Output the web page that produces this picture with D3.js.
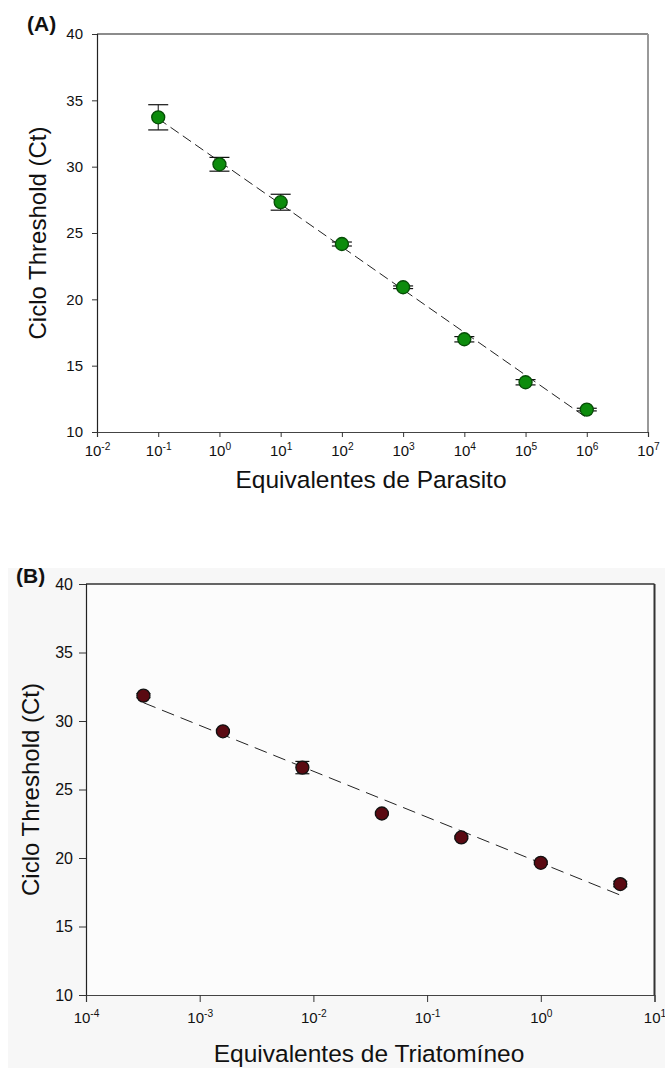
<!DOCTYPE html>
<html>
<head>
<meta charset="utf-8">
<script src="https://cdn.jsdelivr.net/npm/d3@7"></script>
<style>
  html, body { margin: 0; padding: 0; background: #ffffff; }
  svg { display: block; font-family: "Liberation Sans", Arial, sans-serif; }
</style>
</head>
<body>
<svg id="chart" width="665" height="1068"></svg>
<script>
// ---------- data ----------
const parasiteEq  = [1e-1, 1e0, 1e1, 1e2, 1e3, 1e4, 1e5, 1e6];
const parasiteCt  = [33.72, 30.18, 27.32, 24.17, 20.91, 16.99, 13.75, 11.69];
const parasiteErr = [0.95, 0.52, 0.60, 0.15, 0.10, 0.20, 0.20, 0.10];

const triatEq  = [0.00032, 0.0016, 0.008, 0.04, 0.2, 1, 5];
const triatCt  = [31.85, 29.25, 26.60, 23.25, 21.50, 19.65, 18.10];
const triatErr = [0.15, 0.10, 0.45, 0.10, 0.10, 0.12, 0.20];

const yTicks = [10, 15, 20, 25, 30, 35, 40];
const xExpA = [-2, -1, 0, 1, 2, 3, 4, 5, 6, 7];
const xExpB = [-4, -3, -2, -1, 0, 1];

const panelLabels = ["(A)", "(B)"];
const yTitle = "Ciclo Threshold (Ct)";
const xTitles = ["Equivalentes de Parasito", "Equivalentes de Triatomíneo"];

// ---------- helpers ----------
const svg = d3.select("#chart");

function linFit(xs, ys) {
  const lx = xs.map(v => Math.log10(v));
  const mx = d3.mean(lx), my = d3.mean(ys);
  let sxy = 0, sxx = 0;
  lx.forEach((v, i) => { sxy += (v - mx) * (ys[i] - my); sxx += (v - mx) * (v - mx); });
  const b = sxy / sxx, a = my - b * mx;
  return x => a + b * Math.log10(x);
}

function drawPanel(cfg) {
  const g = svg.append("g");
  const x = d3.scaleLog().domain([Math.pow(10, cfg.exps[0]), Math.pow(10, cfg.exps[cfg.exps.length - 1])])
    .range([cfg.left, cfg.right]);
  const y = d3.scaleLinear().domain([10, 40]).range([cfg.bottom, cfg.top]);

  if (cfg.plotBg) {
    g.append("rect").attr("x", cfg.left).attr("y", cfg.top)
      .attr("width", cfg.right - cfg.left).attr("height", cfg.bottom - cfg.top)
      .attr("fill", cfg.plotBg);
  }

  // frame top & right
  g.append("line").attr("x1", cfg.left).attr("x2", cfg.right).attr("y1", cfg.top).attr("y2", cfg.top)
    .attr("stroke", cfg.frameTop).attr("stroke-width", 1.5);
  g.append("line").attr("x1", cfg.right).attr("x2", cfg.right).attr("y1", cfg.top).attr("y2", cfg.bottom)
    .attr("stroke", cfg.frameRight).attr("stroke-width", 2);

  // y axis
  const yAxis = d3.axisLeft(y).tickValues(yTicks).tickSize(cfg.tick).tickPadding(cfg.yPad).tickFormat(d3.format("d"));
  const ya = g.append("g").attr("transform", `translate(${cfg.left},0)`).call(yAxis);
  ya.select(".domain").attr("stroke", "#222").attr("stroke-width", 1.2);
  ya.selectAll(".tick line").attr("stroke", "#333");
  ya.selectAll(".tick text").attr("font-size", cfg.yFont).attr("fill", "#111")
    .attr("font-family", "'Liberation Sans', Arial, sans-serif");

  // x axis
  const xAxis = d3.axisBottom(x).tickValues(cfg.exps.map(e => Math.pow(10, e))).tickSize(cfg.tick).tickFormat("");
  const xa = g.append("g").attr("transform", `translate(0,${cfg.bottom})`).call(xAxis);
  xa.select(".domain").attr("stroke", "#444").attr("stroke-width", 1.2);
  xa.selectAll(".tick line").attr("stroke", "#333");
  xa.selectAll(".tick").each(function(d) {
    const e = Math.round(Math.log10(d));
    const t = d3.select(this).append("text")
      .attr("y", cfg.xLabelDy).attr("fill", "#111").attr("text-anchor", "middle")
      .attr("font-size", cfg.xFont).attr("font-family", "'Liberation Sans', Arial, sans-serif");
    t.append("tspan").text("10");
    t.append("tspan").attr("dy", -cfg.xFont * 0.42).attr("font-size", cfg.xFont * 0.68).text(String(e));
  });

  // regression line
  const f = linFit(cfg.xs, cfg.ys);
  const x0 = cfg.xs[0], x1 = cfg.xs[cfg.xs.length - 1];
  g.append("line")
    .attr("x1", x(x0)).attr("y1", y(f(x0)))
    .attr("x2", x(x1)).attr("y2", y(f(x1)))
    .attr("stroke", "#222").attr("stroke-width", 1).attr("stroke-dasharray", cfg.dash);

  // error bars
  const pts = cfg.xs.map((v, i) => ({x: v, y: cfg.ys[i], e: cfg.err[i]}));
  const eb = g.append("g").selectAll("g").data(pts).join("g");
  eb.append("line").attr("x1", d => x(d.x)).attr("x2", d => x(d.x))
    .attr("y1", d => y(d.y + d.e)).attr("y2", d => y(d.y - d.e)).attr("stroke", "#111").attr("stroke-width", 1);
  [1, -1].forEach(s => {
    eb.append("line").attr("x1", d => x(d.x) - cfg.cap).attr("x2", d => x(d.x) + cfg.cap)
      .attr("y1", d => y(d.y + s * d.e)).attr("y2", d => y(d.y + s * d.e))
      .attr("stroke", "#111").attr("stroke-width", 1.2);
  });

  // markers
  g.append("g").selectAll("circle").data(pts).join("circle")
    .attr("cx", d => x(d.x)).attr("cy", d => y(d.y)).attr("r", cfg.r)
    .attr("fill", cfg.fill).attr("stroke", cfg.stroke).attr("stroke-width", 1.3);

  // titles
  g.append("text").attr("x", cfg.labelX).attr("y", cfg.labelY).text(cfg.label)
    .attr("font-weight", "bold").attr("font-size", 21).attr("fill", "#111");
  g.append("text")
    .attr("transform", `translate(${cfg.yTitleX},${(cfg.top + cfg.bottom) / 2}) rotate(-90)`)
    .attr("text-anchor", "middle").attr("font-size", 24).attr("fill", "#111").text(yTitle);
  g.append("text").attr("x", cfg.xTitleX).attr("y", cfg.xTitleY)
    .attr("text-anchor", "middle").attr("font-size", 24.5).attr("fill", "#111").text(cfg.xTitle);
}

// panel B background
svg.append("rect").attr("x", 8).attr("y", 568).attr("width", 657).attr("height", 500).attr("fill", "#f7f7f7");

drawPanel({
  left: 97, right: 648, top: 34, bottom: 432, exps: xExpA,
  xs: parasiteEq, ys: parasiteCt, err: parasiteErr,
  frameTop: "#666", frameRight: "#999", plotBg: null,
  tick: 5, yPad: 9, yFont: 15, xFont: 15, xLabelDy: 24,
  dash: "10,5", cap: 10, r: 6.5, fill: "#0c8c0c", stroke: "#064d06",
  label: panelLabels[0], labelX: 27, labelY: 31,
  yTitleX: 46, xTitle: xTitles[0], xTitleX: 371, xTitleY: 488
});

drawPanel({
  left: 86, right: 654.5, top: 584, bottom: 995, exps: xExpB,
  xs: triatEq, ys: triatCt, err: triatErr,
  frameTop: "#333", frameRight: "#333", plotBg: "#fcfcfc",
  tick: 7, yPad: 6, yFont: 16, xFont: 15, xLabelDy: 28,
  dash: "13,7", cap: 7, r: 6.5, fill: "#5a0a12", stroke: "#111",
  label: panelLabels[1], labelX: 16, labelY: 583,
  yTitleX: 39, xTitle: xTitles[1], xTitleX: 369, xTitleY: 1062
});
</script>
</body>
</html>
